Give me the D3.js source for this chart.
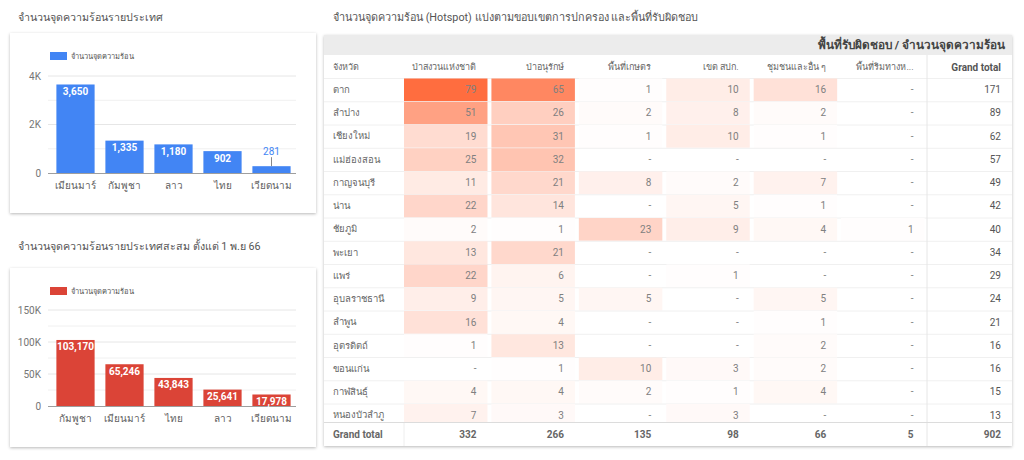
<!DOCTYPE html>
<html>
<head>
<meta charset="utf-8">
<script src="https://cdn.jsdelivr.net/npm/d3@7"></script>
<style>
  body { margin: 0; background: #fff; font-family: Roboto, "Noto Sans", sans-serif; }
  svg { display: block; }
</style>
</head>
<body>
<svg id="page" width="1024" height="460"></svg>
<script>
// ---- data ----
const countries1 = ['เมียนมาร์', 'กัมพูชา', 'ลาว', 'ไทย', 'เวียดนาม'];
const hotspots1 = [3650, 1335, 1180, 902, 281];
const ticks1 = [0, 2000, 4000];

const countries2 = ['กัมพูชา', 'เมียนมาร์', 'ไทย', 'ลาว', 'เวียดนาม'];
const hotspots2 = [103170, 65246, 43843, 25641, 17978];
const ticks2 = [0, 50000, 100000, 150000];

const areaCols = ['ป่าสงวนแห่งชาติ', 'ป่าอนุรักษ์', 'พื้นที่เกษตร', 'เขต สปก.', 'ชุมชนและอื่น ๆ', 'พื้นที่ริมทางห...'];
const provinces = ['ตาก', 'ลำปาง', 'เชียงใหม่', 'แม่ฮ่องสอน', 'กาญจนบุรี', 'น่าน', 'ชัยภูมิ', 'พะเยา',
  'แพร่', 'อุบลราชธานี', 'ลำพูน', 'อุตรดิตถ์', 'ขอนแก่น', 'กาฬสินธุ์', 'หนองบัวลำภู'];
// null = "-"
const cellValues = [
  [79, 65, 1, 10, 16, null],
  [51, 26, 2, 8, 2, null],
  [19, 31, 1, 10, 1, null],
  [25, 32, null, null, null, null],
  [11, 21, 8, 2, 7, null],
  [22, 14, null, 5, 1, null],
  [2, 1, 23, 9, 4, 1],
  [13, 21, null, null, null, null],
  [22, 6, null, 1, null, null],
  [9, 5, 5, null, 5, null],
  [16, 4, null, null, 1, null],
  [1, 13, null, null, 2, null],
  [null, 1, 10, 3, 2, null],
  [4, 4, 2, 1, 4, null],
  [7, 3, null, 3, null, null]
];
const rowTotals = [171, 89, 62, 57, 49, 42, 40, 34, 29, 24, 21, 16, 16, 15, 13];
const colTotals = [332, 266, 135, 98, 66, 5];
const grandTotal = 902;

const svg = d3.select('#page');
const fmt = d3.format(',');

const defs = svg.append('defs');
const shadow = defs.append('filter').attr('id', 'shadow')
  .attr('x', '-5%').attr('y', '-5%').attr('width', '110%').attr('height', '115%');
shadow.append('feDropShadow')
  .attr('dx', 0).attr('dy', 1).attr('stdDeviation', 1.4)
  .attr('flood-color', '#000').attr('flood-opacity', 0.28);

/**
 * Draw one bar chart card (title, legend, grid, bars, labels)
 */
let drawBarCard = (opt) => {
  svg.append('text')
    .attr('x', 18).attr('y', opt.titleY)
    .attr('font-size', 10.7).attr('fill', '#555')
    .text(opt.title);

  svg.append('rect')
    .attr('x', 10).attr('y', opt.cardY).attr('width', 306).attr('height', opt.cardH)
    .attr('fill', '#fff').attr('filter', 'url(#shadow)');

  let g = svg.append('g');

  // legend
  g.append('rect')
    .attr('x', 50).attr('y', opt.cardY + 19).attr('width', 17).attr('height', 8)
    .attr('fill', opt.color);
  g.append('text')
    .attr('x', 71).attr('y', opt.cardY + 23).attr('dy', '0.35em')
    .attr('font-size', 7.5).attr('fill', '#555')
    .text('จำนวนจุดความร้อน');

  let x = d3.scaleBand().domain(opt.cats).range([51, 296]).paddingInner(0.22).paddingOuter(0.11);
  let y = d3.scaleLinear().domain([0, opt.max]).range([opt.base, opt.top]);

  // grid lines, minor ones included
  let gridTicks = d3.range(opt.minorStep, opt.max + 1, opt.minorStep);
  g.selectAll('.grid').data(gridTicks).enter().append('line')
    .attr('x1', 48).attr('x2', 296)
    .attr('y1', d => y(d)).attr('y2', d => y(d))
    .attr('stroke', d => opt.ticks.includes(d) ? '#e6e6e6' : '#f0f0f0')
    .attr('stroke-width', 1);

  let yAxis = g.append('g')
    .attr('transform', 'translate(44,0)')
    .call(d3.axisLeft(y).tickValues(opt.ticks).tickSize(0).tickPadding(3)
      .tickFormat(d => d == 0 ? '0' : d3.format('~s')(d).replace('k', 'K')));
  yAxis.select('.domain').remove();
  yAxis.selectAll('text').attr('font-size', 10).attr('fill', '#757575')
    .attr('font-family', 'Roboto, sans-serif');

  g.selectAll('.bar').data(opt.values).enter().append('rect')
    .attr('x', (d, i) => x(opt.cats[i]))
    .attr('y', d => y(d))
    .attr('width', x.bandwidth())
    .attr('height', d => y(0) - y(d))
    .attr('fill', opt.color);

  // baseline
  g.append('line')
    .attr('x1', 48).attr('x2', 296)
    .attr('y1', y(0) + 0.5).attr('y2', y(0) + 0.5)
    .attr('stroke', '#9e9e9e');

  // value labels: inside the bar, or above it with a leader when bar is too short
  opt.values.forEach((d, i) => {
    let cx = x(opt.cats[i]) + x.bandwidth() / 2;
    let h = y(0) - y(d);
    if (h >= 11) {
      g.append('text')
        .attr('x', cx).attr('y', y(d) + 10.5)
        .attr('text-anchor', 'middle').attr('font-size', 10).attr('font-weight', 'bold')
        .attr('fill', '#fff').text(fmt(d));
    } else {
      g.append('line')
        .attr('x1', cx).attr('x2', cx).attr('y1', y(d) - 9).attr('y2', y(d))
        .attr('stroke', '#888');
      g.append('text')
        .attr('x', cx).attr('y', y(d) - 11)
        .attr('text-anchor', 'middle').attr('font-size', 10)
        .attr('fill', opt.color).text(fmt(d));
    }
  });

  // category labels
  g.selectAll('.xl').data(opt.cats).enter().append('text')
    .attr('x', d => x(d) + x.bandwidth() / 2)
    .attr('y', opt.base + 12).attr('dy', '0.35em')
    .attr('text-anchor', 'middle').attr('font-size', 10).attr('fill', '#616161')
    .text(d => d);
};

drawBarCard({
  title: 'จำนวนจุดความร้อนรายประเทศ', titleY: 21,
  cardY: 33, cardH: 180, color: '#4285f4',
  cats: countries1, values: hotspots1, ticks: ticks1,
  max: 4000, minorStep: 1000, base: 173, top: 76
});

drawBarCard({
  title: 'จำนวนจุดความร้อนรายประเทศสะสม ตั้งแต่ 1 พ.ย 66', titleY: 250,
  cardY: 268, cardH: 179, color: '#db4437',
  cats: countries2, values: hotspots2, ticks: ticks2,
  max: 150000, minorStep: 25000, base: 406, top: 310
});

// ---- pivot table ----
svg.append('text')
  .attr('x', 333).attr('y', 21)
  .attr('font-size', 10.8).attr('fill', '#555')
  .text('จำนวนจุดความร้อน (Hotspot) แบ่งตามขอบเขตการปกครอง และพื้นที่รับผิดชอบ');

const T = { x: 324, y: 35, w: 688, h: 411 };
svg.append('rect')
  .attr('x', T.x).attr('y', T.y).attr('width', T.w).attr('height', T.h)
  .attr('fill', '#fff').attr('filter', 'url(#shadow)');

let tg = svg.append('g');

// top header band
tg.append('rect')
  .attr('x', T.x).attr('y', T.y).attr('width', T.w).attr('height', 20)
  .attr('fill', '#ececec');
tg.append('text')
  .attr('x', 1005).attr('y', T.y + 10).attr('dy', '0.35em')
  .attr('text-anchor', 'end').attr('font-size', 11.8).attr('font-weight', 'bold').attr('fill', '#444')
  .text('พื้นที่รับผิดชอบ / จำนวนจุดความร้อน');

const allCols = areaCols.concat(['Grand total']);
let cx = d3.scaleBand().domain(allCols).range([404, 1012]).paddingInner(0.045);
let ry = d3.scaleBand().domain(provinces).range([78, 78 + provinces.length * 23.25]);
let heat = d3.scaleLinear().domain([0, 79]).range(['#ffffff', '#ff6d3f'])
  .interpolate(d3.interpolateRgb);

// column headers
tg.append('text')
  .attr('x', 333).attr('y', 67).attr('dy', '0.35em')
  .attr('font-size', 9).attr('fill', '#666').text('จังหวัด');
tg.selectAll('.colh').data(allCols).enter().append('text')
  .attr('x', d => cx(d) + cx.bandwidth() - 11)
  .attr('y', 67).attr('dy', '0.35em')
  .attr('text-anchor', 'end')
  .attr('font-size', d => d == 'Grand total' ? 10 : 9)
  .attr('font-weight', d => d == 'Grand total' ? 'bold' : 'normal')
  .attr('fill', d => d == 'Grand total' ? '#555' : '#666')
  .text(d => d);

defs.append('clipPath').attr('id', 'bodyclip')
  .append('rect').attr('x', T.x).attr('y', 78).attr('width', T.w).attr('height', 422 - 78);

let body = tg.append('g').attr('clip-path', 'url(#bodyclip)');

provinces.forEach((p, r) => {
  let top = ry(p);
  let mid = top + ry.bandwidth() / 2;
  body.append('line')
    .attr('x1', T.x).attr('x2', T.x + T.w)
    .attr('y1', top + 0.5).attr('y2', top + 0.5)
    .attr('stroke', '#f0f0f0');
  body.append('text')
    .attr('x', 333).attr('y', mid).attr('dy', '0.35em')
    .attr('font-size', 9.5).attr('fill', '#666').text(p);
  cellValues[r].forEach((v, c) => {
    let col = areaCols[c];
    if (v != null) {
      body.append('rect')
        .attr('x', cx(col)).attr('y', top + 0.5)
        .attr('width', cx.bandwidth()).attr('height', ry.bandwidth() - 0.5)
        .attr('fill', heat(v));
    }
    body.append('text')
      .attr('x', cx(col) + cx.bandwidth() - 11).attr('y', mid).attr('dy', '0.35em')
      .attr('text-anchor', 'end').attr('font-size', 10).attr('fill', '#808080')
      .text(v == null ? '-' : v);
  });
  body.append('text')
    .attr('x', cx('Grand total') + cx.bandwidth() - 11).attr('y', mid).attr('dy', '0.35em')
    .attr('text-anchor', 'end').attr('font-size', 10).attr('fill', '#555')
    .text(rowTotals[r]);
});

// vertical divider before grand total column
tg.append('line')
  .attr('x1', cx('Grand total') - 1.5).attr('x2', cx('Grand total') - 1.5)
  .attr('y1', 55).attr('y2', T.y + T.h)
  .attr('stroke', '#e6e6e6');

// grand total row
tg.append('line')
  .attr('x1', T.x).attr('x2', T.x + T.w)
  .attr('y1', 422.5).attr('y2', 422.5)
  .attr('stroke', '#dcdcdc');
tg.append('line')
  .attr('x1', 404).attr('x2', 404)
  .attr('y1', 423).attr('y2', T.y + T.h)
  .attr('stroke', '#eeeeee');
tg.append('text')
  .attr('x', 333).attr('y', 434).attr('dy', '0.35em')
  .attr('font-size', 10).attr('font-weight', 'bold').attr('fill', '#666')
  .text('Grand total');
tg.selectAll('.ct').data(colTotals.concat([grandTotal])).enter().append('text')
  .attr('x', (d, i) => cx(allCols[i]) + cx.bandwidth() - 11)
  .attr('y', 434).attr('dy', '0.35em')
  .attr('text-anchor', 'end').attr('font-size', 10).attr('font-weight', 'bold')
  .attr('fill', '#666')
  .text(d => d);
</script>
</body>
</html>
